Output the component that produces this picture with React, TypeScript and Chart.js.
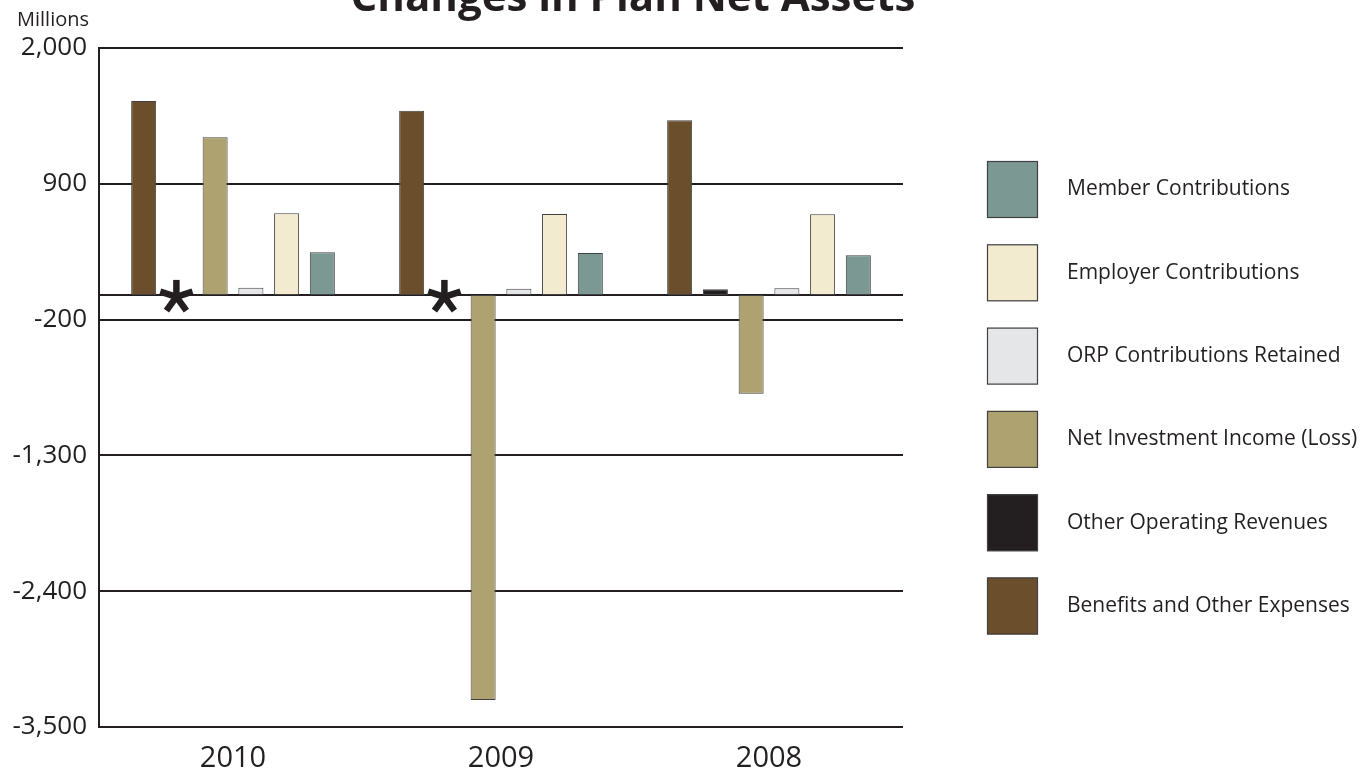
import React, { useEffect, useRef } from 'react';
import { Chart, registerables, Plugin } from 'chart.js';

Chart.register(...registerables);

const years = ['2010', '2009', '2008'];

const seriesLabels = [
  'Benefits and Other Expenses',
  'Other Operating Revenues',
  'Net Investment Income (Loss)',
  'ORP Contributions Retained',
  'Employer Contributions',
  'Member Contributions',
];

const seriesColors = ['#6b4f2c', '#231f20', '#ada270', '#e5e6e8', '#f3ebcf', '#7c9893'];

// values in millions; null = shown only as "*"
const benefits = [1571, 1492, 1414];
const otherRevenues = [null, null, 45];
const netInvestment = [1277, -3281, -800];
const orpRetained = [58, 50, 53];
const employerContrib = [661, 655, 653];
const memberContrib = [345, 339, 321];

const yTicks = [2000, 900, -200, -1300, -2400, -3500];

const FONT = "'Open Sans', 'DejaVu Sans', sans-serif";
const INK = '#231f20';

const extrasPlugin: Plugin<'bar'> = {
  id: 'extras',
  beforeDatasetsDraw(chart) {
    // zero line behind the bars
    const { ctx, chartArea, scales } = chart;
    const y0 = scales.y.getPixelForValue(0);
    ctx.save();
    ctx.strokeStyle = INK;
    ctx.lineWidth = 2;
    ctx.beginPath();
    ctx.moveTo(chartArea.left, y0);
    ctx.lineTo(chartArea.right, y0);
    ctx.stroke();
    ctx.restore();
  },
  afterDraw(chart) {
    const { ctx, scales } = chart;
    ctx.save();

    // title, partly cut off at the top
    ctx.fillStyle = INK;
    ctx.font = `bold 42px ${FONT}`;
    ctx.textAlign = 'center';
    ctx.textBaseline = 'alphabetic';
    ctx.fillText('Changes in Plan Net Assets', 633, 11);

    // unit label
    ctx.font = `20px ${FONT}`;
    ctx.textAlign = 'left';
    ctx.textBaseline = 'middle';
    ctx.fillText('Millions', 17, 20);

    // asterisks where there is no "Other Operating Revenues" bar
    const meta = chart.getDatasetMeta(1);
    const y0 = scales.y.getPixelForValue(0);
    otherRevenues.forEach((v, i) => {
      if (v !== null) return;
      const el: any = meta.data[i];
      if (!el) return;
      const cx = el.x - 3;
      const cy = y0 + 2;
      ctx.strokeStyle = INK;
      ctx.lineWidth = 6.5;
      ctx.lineCap = 'butt';
      for (let k = 0; k < 5; k++) {
        const a = -Math.PI / 2 + (k * 2 * Math.PI) / 5;
        ctx.beginPath();
        ctx.moveTo(cx, cy);
        ctx.lineTo(cx + Math.cos(a) * 17, cy + Math.sin(a) * 17);
        ctx.stroke();
      }
    });

    // legend on the right, reversed order
    const boxX = 987;
    const boxW = 51;
    const boxH = 57;
    const top = 161;
    const step = 83.3;
    const order = [5, 4, 3, 2, 1, 0];
    order.forEach((di, k) => {
      const y = top + k * step;
      ctx.fillStyle = seriesColors[di];
      ctx.fillRect(boxX, y, boxW, boxH);
      ctx.strokeStyle = '#414042';
      ctx.lineWidth = 1.2;
      ctx.strokeRect(boxX + 0.5, y + 0.5, boxW - 1, boxH - 1);
      ctx.fillStyle = INK;
      ctx.font = `21px ${FONT}`;
      ctx.textAlign = 'left';
      ctx.textBaseline = 'middle';
      ctx.fillText(seriesLabels[di], 1067, y + boxH / 2);
    });

    ctx.restore();
  },
};

const App: React.FC = () => {
  const canvasRef = useRef<HTMLCanvasElement>(null);
  const chartRef = useRef<Chart | null>(null);

  useEffect(() => {
    if (!canvasRef.current) return;
    if (chartRef.current) chartRef.current.destroy();

    const allSeries = [benefits, otherRevenues, netInvestment, orpRetained, employerContrib, memberContrib];

    chartRef.current = new Chart(canvasRef.current, {
      type: 'bar',
      data: {
        labels: years,
        datasets: allSeries.map((values, i) => ({
          label: seriesLabels[i],
          data: values as (number | null)[],
          backgroundColor: seriesColors[i],
          borderColor: '#414042',
          borderWidth: 1,
          borderSkipped: false,
          categoryPercentage: 0.8,
          barPercentage: 0.7,
        })),
      },
      options: {
        animation: false,
        responsive: true,
        maintainAspectRatio: false,
        layout: { padding: { top: 48, right: 465, bottom: 0, left: 0 } },
        plugins: {
          legend: { display: false },
          tooltip: { enabled: false },
          title: { display: false },
        },
        scales: {
          x: {
            grid: { display: false },
            border: { display: false },
            ticks: {
              color: INK,
              font: { family: FONT, size: 29 },
              padding: 6,
            },
            afterFit(scale) {
              scale.height = 45;
            },
          },
          y: {
            min: -3500,
            max: 2000,
            afterBuildTicks(scale) {
              scale.ticks = yTicks.map((v) => ({ value: v }));
            },
            afterFit(scale) {
              scale.width = 99;
            },
            grid: {
              color: INK,
              lineWidth: 2,
              drawTicks: false,
            },
            border: { display: true, color: INK, width: 2 },
            ticks: {
              color: INK,
              font: { family: FONT, size: 26 },
              padding: 12,
              callback: (v) => Number(v).toLocaleString('en-US'),
            },
          },
        },
      },
      plugins: [extrasPlugin],
    });

    return () => {
      chartRef.current?.destroy();
      chartRef.current = null;
    };
  }, []);

  return (
    <div style={{ position: 'fixed', left: 0, top: 0, width: 1368, height: 772, background: '#fff' }}>
      <canvas ref={canvasRef}></canvas>
    </div>
  );
};

export default App;
